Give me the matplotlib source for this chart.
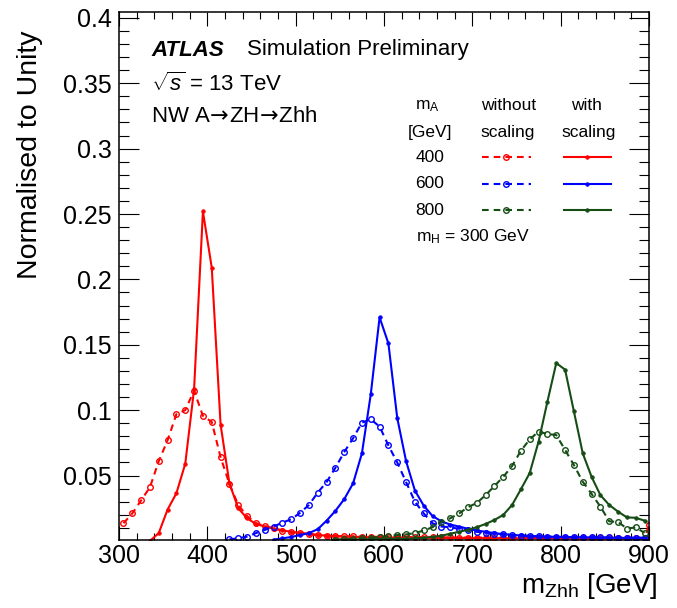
import numpy as np
import matplotlib
matplotlib.use('Agg')
import matplotlib.pyplot as plt
from matplotlib.lines import Line2D
from matplotlib.ticker import MultipleLocator

plt.rcParams['font.family'] = ['Liberation Sans', 'DejaVu Sans']
plt.rcParams['mathtext.fontset'] = 'custom'
plt.rcParams['mathtext.rm'] = 'Liberation Sans'
plt.rcParams['mathtext.it'] = 'Liberation Sans:italic'
plt.rcParams['mathtext.bf'] = 'Liberation Sans:bold'

# m_Zhh distributions, 10 GeV bins (bin centres)
red_dash_start = 305
red_dash = [0.0135, 0.021, 0.031, 0.041, 0.061, 0.077, 0.097, 0.100, 0.115, 0.0956,
            0.091, 0.064, 0.0436, 0.0275, 0.019, 0.0135, 0.0115, 0.0097, 0.0079, 0.0066,
            0.0058, 0.0050, 0.0045, 0.0041, 0.0038, 0.0036, 0.0034, 0.0033, 0.0032, 0.0031,
            0.0030, 0.0030, 0.0029, 0.0029, 0.0028, 0.0028, 0.0027, 0.0027, 0.0026, 0.0026,
            0.0026, 0.0025, 0.0025, 0.0025, 0.0024, 0.0024, 0.0024, 0.0023, 0.0023, 0.0023,
            0.0022, 0.0022, 0.0022, 0.0022, 0.0021, 0.0021, 0.0021, 0.0021, 0.0020, 0.0020]
red_overflow = 0.012   # last point drawn on the right edge

red_solid_start = 335
red_solid = [0.0, 0.006, 0.024, 0.0365, 0.059, 0.116, 0.252, 0.209, 0.089, 0.044,
             0.025, 0.0173, 0.013, 0.011, 0.0095, 0.008, 0.007, 0.0062, 0.0054, 0.0046,
             0.0040, 0.0036, 0.0033, 0.0031, 0.0029, 0.0028, 0.0027, 0.0026, 0.0026, 0.0025,
             0.0025, 0.0024, 0.0024, 0.0023, 0.0023, 0.0022, 0.0022, 0.0022, 0.0021, 0.0021,
             0.0021, 0.0020, 0.0020, 0.0020, 0.0020, 0.0019, 0.0019, 0.0019, 0.0019, 0.0018,
             0.0018, 0.0018, 0.0018, 0.0018, 0.0017, 0.0017, 0.0017]

blue_dash_start = 425
blue_dash = [0.0012, 0.002, 0.0033, 0.006, 0.0084, 0.011, 0.014, 0.0166, 0.0215, 0.0275,
             0.037, 0.045, 0.056, 0.068, 0.0785, 0.0905, 0.093, 0.0875, 0.073, 0.060,
             0.045, 0.030, 0.021, 0.0135, 0.011, 0.0105, 0.0092, 0.0080, 0.0070, 0.0062,
             0.0055, 0.0050, 0.0045, 0.0041, 0.0038, 0.0035, 0.0033, 0.0031, 0.0030, 0.0029,
             0.0028, 0.0028, 0.0027, 0.0027, 0.0026, 0.0026, 0.0025, 0.0025]

blue_solid_start = 475
blue_solid = [0.001, 0.002, 0.003, 0.0045, 0.006, 0.009, 0.0155, 0.023, 0.032, 0.044,
              0.067, 0.112, 0.171, 0.151, 0.094, 0.061, 0.0385, 0.027, 0.019, 0.015,
              0.0125, 0.011, 0.0093, 0.008, 0.007, 0.006, 0.0052, 0.0046, 0.0042, 0.0038,
              0.0035, 0.0033, 0.0031, 0.0030, 0.0029, 0.0028, 0.0027, 0.0026, 0.0025, 0.0024,
              0.0023, 0.0023, 0.0022]

green_dash_start = 545
green_dash = [0.001, 0.0012, 0.0015, 0.002, 0.0025, 0.003, 0.0036, 0.0045, 0.005, 0.006,
              0.008, 0.0105, 0.0145, 0.0173, 0.021, 0.0258, 0.029, 0.035, 0.042, 0.049,
              0.0573, 0.069, 0.0777, 0.0836, 0.0818, 0.081, 0.0696, 0.058, 0.0453, 0.036,
              0.0262, 0.015, 0.0145, 0.0095, 0.0103, 0.0062]

green_solid_start = 545
green_solid = [0.001, 0.001, 0.0011, 0.0012, 0.0013, 0.0014, 0.0015, 0.0016, 0.0017, 0.002,
               0.0025, 0.003, 0.004, 0.0055, 0.007, 0.0085, 0.0105, 0.013, 0.016, 0.0199,
               0.0275, 0.0395, 0.052, 0.076, 0.1065, 0.136, 0.131, 0.099, 0.067, 0.049,
               0.035, 0.0275, 0.0224, 0.018, 0.0177, 0.0155]

mass_points = ['400', '600', '800']
colors = ['#ff0000', '#0000ff', '#154d15']

x_ticks = [300, 400, 500, 600, 700, 800, 900]
x_tick_labels = ['300', '400', '500', '600', '700', '800', '900']
y_ticks = [0.05, 0.1, 0.15, 0.2, 0.25, 0.3, 0.35, 0.4]
y_tick_labels = ['0.05', '0.1', '0.15', '0.2', '0.25', '0.3', '0.35', '0.4']


def centres(start, vals):
    return start + 10 * np.arange(len(vals))


W, H = 677, 608
fig = plt.figure(figsize=(W / 100, H / 100), dpi=100)
ax = fig.add_axes([119 / W, 1 - 539.5 / H, 530 / W, 527.5 / H])

lw = 1.5
dash_kw = dict(lw=lw, ls=(0, (3.2, 2.4)), marker='o', ms=4.0, mfc='none', mew=1.0)
solid_kw = dict(lw=lw, ls='-', marker='o', ms=2.6, mew=0.5)

rx = np.append(centres(red_dash_start, red_dash), 900)
ry = np.append(red_dash, red_overflow)
ax.plot(rx, ry, color=colors[0], **dash_kw)
ax.plot(centres(red_solid_start, red_solid), red_solid, color=colors[0], **solid_kw)
ax.plot(centres(blue_dash_start, blue_dash), blue_dash, color=colors[1], **dash_kw)
ax.plot(centres(blue_solid_start, blue_solid), blue_solid, color=colors[1], **solid_kw)
ax.plot(centres(green_dash_start, green_dash), green_dash, color=colors[2], **dash_kw)
ax.plot(centres(green_solid_start, green_solid), green_solid, color=colors[2], **solid_kw)

ax.set_xlim(300, 900)
ax.set_ylim(0.0011, 0.4045)
ax.set_xticks(x_ticks)
ax.set_xticklabels(x_tick_labels)
ax.set_yticks(y_ticks)
ax.set_yticklabels(y_tick_labels)
ax.xaxis.set_minor_locator(MultipleLocator(20))
ax.yaxis.set_minor_locator(MultipleLocator(0.01))
ax.tick_params(which='both', direction='in', top=True, right=True, width=0.8, labelsize=18)
ax.tick_params(axis='x', which='major', length=10, pad=3)
ax.tick_params(axis='x', which='minor', length=5)
ax.tick_params(axis='y', which='major', length=14.4, pad=5)
ax.tick_params(axis='y', which='minor', length=7.2)
for s in ax.spines.values():
    s.set_linewidth(1.1)


def fpos(x, y):
    return x / W, 1 - y / H


# axis titles
fig.text(*fpos(30, 155), 'Normalised to Unity', rotation=90, ha='center', va='center', fontsize=20.5)
fig.text(*fpos(657, 586), r'm$_{\mathrm{Zhh}}$ [GeV]', ha='right', va='center', fontsize=20)

# labels
fig.text(*fpos(151, 50), 'ATLAS', fontsize=16, fontweight='bold', style='italic', va='center')
fig.text(*fpos(247, 50), 'Simulation Preliminary', fontsize=16, va='center')
fig.text(*fpos(151, 84), r'$\sqrt{s}$ = 13 TeV', fontsize=16, va='center')
fig.text(*fpos(151, 116), r'NW A$\!\rightarrow\!$ZH$\!\rightarrow\!$Zhh', fontsize=16,
         va='center', math_fontfamily='dejavusans')

# legend block
fs = 12.5
fig.text(*fpos(427, 106), r'm$_{\mathrm{A}}$', fontsize=fs, ha='center', va='center')
fig.text(*fpos(430, 132), '[GeV]', fontsize=fs, ha='center', va='center')
fig.text(*fpos(509, 106), 'without', fontsize=fs, ha='center', va='center')
fig.text(*fpos(508, 132), 'scaling', fontsize=fs, ha='center', va='center')
fig.text(*fpos(586, 106), 'with', fontsize=fs, ha='center', va='center')
fig.text(*fpos(589, 132), 'scaling', fontsize=fs, ha='center', va='center')

for i, (m, c) in enumerate(zip(mass_points, colors)):
    yrow = 157 + 26.7 * i
    fig.text(*fpos(430, yrow), m, fontsize=fs, ha='center', va='center')
    x0, y0 = fpos(482, yrow)
    x1, _ = fpos(531, yrow)
    fig.add_artist(Line2D([x0, x1], [y0, y0], color=c, lw=lw, ls=(0, (3.2, 2.4)),
                          transform=fig.transFigure))
    fig.add_artist(Line2D([fpos(506, yrow)[0]], [y0], color=c, marker='o', ms=4.0,
                          mfc='none', mew=1.0, transform=fig.transFigure))
    x0, _ = fpos(564, yrow)
    x1, _ = fpos(611, yrow)
    fig.add_artist(Line2D([x0, x1], [y0, y0], color=c, lw=lw, transform=fig.transFigure))
    fig.add_artist(Line2D([fpos(587, yrow)[0]], [y0], color=c, marker='o', ms=2.6,
                          mew=0.5, transform=fig.transFigure))

fig.text(*fpos(416, 237), r'm$_{\mathrm{H}}$ = 300 GeV', fontsize=fs, ha='left', va='center')

fig.savefig('out.png', dpi=100)
